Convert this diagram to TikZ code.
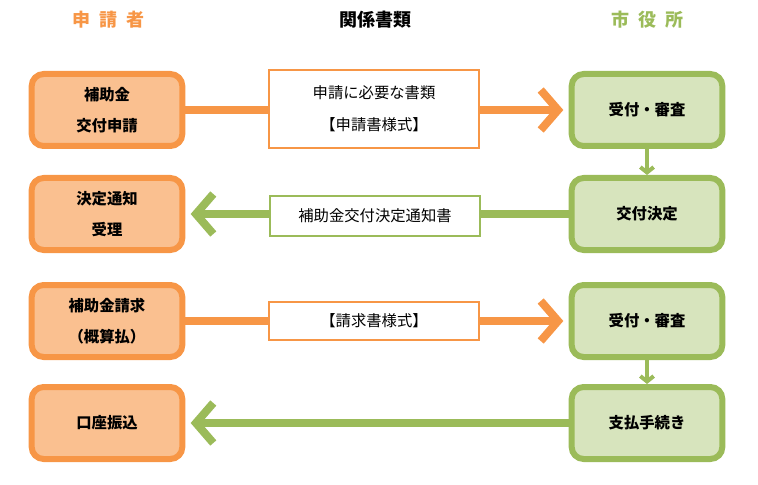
\documentclass[tikz,border=0pt]{standalone}
\usepackage{fontspec}
\newfontfamily\cjk{Noto Sans CJK JP}
\usetikzlibrary{arrows.meta}
\definecolor{ofill}{HTML}{FAC090}
\definecolor{oline}{HTML}{F79646}
\definecolor{gfill}{HTML}{D7E4BD}
\definecolor{gline}{HTML}{9BBB59}
\begin{document}
\begin{tikzpicture}[x=0.75pt,y=-0.75pt,
  ob/.style={draw=oline,fill=ofill,line width=4.5pt,rounded corners=9pt,minimum width=113pt,minimum height=54pt,align=center,font=\cjk\bfseries\fontsize{11.5}{23}\selectfont},
  gb/.style={ob,draw=gline,fill=gfill},
  doc/.style={draw,line width=1.2pt,fill=white,align=center,font=\cjk\fontsize{11.5}{24}\selectfont,minimum width=157.5pt},
  oa/.style={oline,line width=6pt,-{Straight Barb[length=13pt,width=30pt,line width=6pt]}},
  ga/.style={oa,gline},
  sa/.style={gline,line width=3pt,-{Straight Barb[length=4pt,width=10pt,line width=3pt]}},
  hd/.style={font=\cjk\bfseries\fontsize{13.5}{15}\selectfont}]
\useasboundingbox (0,0) rectangle (758,485);
\node[hd,oline] (h1) at (108,20) {申\enspace 請\enspace 者};
\node[hd] (h2) at (375,20) {関係書類};
\node[hd,gline] (h3) at (647,20) {市\enspace 役\enspace 所};
\node[ob] (a1) at (107,110) {補助金\\交付申請};
\node[ob] (a2) at (107,214) {決定通知\\受理};
\node[ob] (a3) at (107,321) {補助金請求\\（概算払）};
\node[ob] (a4) at (107,423) {口座振込};
\node[gb] (b1) at (647,110) {受付・審査};
\node[gb] (b2) at (647,214) {交付決定};
\node[gb] (b3) at (647,321) {受付・審査};
\node[gb] (b4) at (647,423) {支払手続き};
\draw[oa] (a1.east) -- ([xshift=-4pt]b1.west);
\draw[ga] (b2.west) -- ([xshift=4pt]a2.east);
\draw[oa] (a3.east) -- ([xshift=-4pt]b3.west);
\draw[ga] (b4.west) -- ([xshift=4pt]a4.east);
\node[doc,draw=oline,minimum height=58.5pt] (d1) at (374,109) {申請に必要な書類\\【申請書様式】};
\node[doc,draw=gline,minimum height=30pt] (d2) at (375,216) {補助金交付決定通知書};
\node[doc,draw=oline,minimum height=28.5pt] (d3) at (374,321) {【請求書様式】};
\draw[sa] (b1.south) -- (b2.north);
\draw[sa] (b3.south) -- (b4.north);
\end{tikzpicture}
\end{document}
